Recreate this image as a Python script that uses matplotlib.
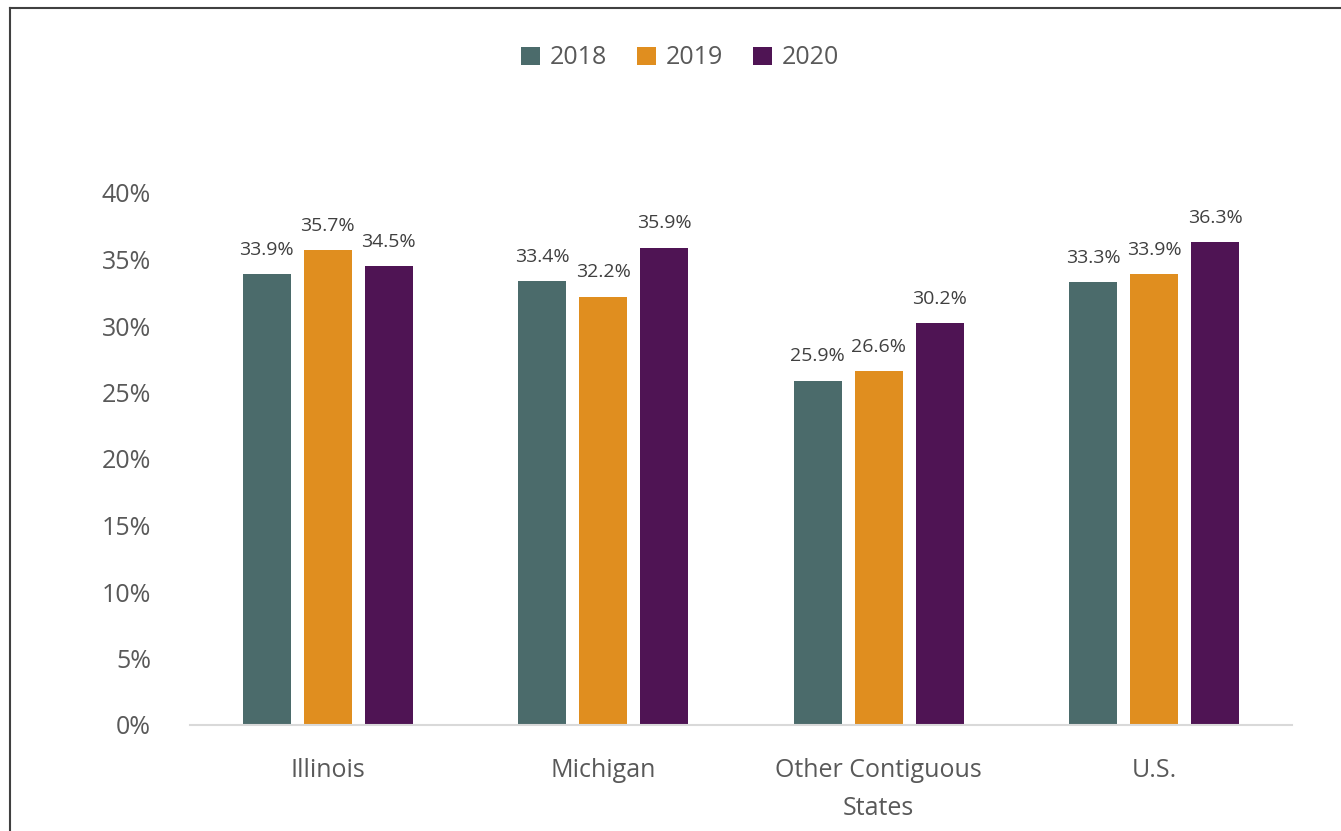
import matplotlib.pyplot as plt
import numpy as np
from matplotlib.lines import Line2D

plt.rcParams['font.family'] = ['Open Sans', 'DejaVu Sans']

categories = ['Illinois', 'Michigan', 'Other Contiguous\nStates', 'U.S.']
years = ['2018', '2019', '2020']
v2018 = [33.9, 33.4, 25.9, 33.3]
v2019 = [35.7, 32.2, 26.6, 33.9]
v2020 = [34.5, 35.9, 30.2, 36.3]
colors = ['#4B6B6B', '#E08E1F', '#4F1454']
yticks = [0, 5, 10, 15, 20, 25, 30, 35, 40]

W, H = 1341, 831
fig = plt.figure(figsize=(W / 100, H / 100), dpi=100)
ax = fig.add_axes([190 / W, (H - 725) / H, 1102 / W, 532 / H])

x = np.arange(len(categories))
bw = 0.174
step = 0.221
txt = '#595959'
for i, (vals, c, yr) in enumerate(zip([v2018, v2019, v2020], colors, years)):
    bars = ax.bar(x + (i - 1) * step, vals, width=bw, color=c, label=yr)
    for b, v in zip(bars, vals):
        ax.annotate(f'{v:.1f}%', (b.get_x() + b.get_width() / 2, v),
                    xytext=(0, 11), textcoords='offset points',
                    ha='center', va='bottom', fontsize=14, color='#404040')

ax.set_xlim(-0.5, 3.5)
ax.set_ylim(0, 40)
ax.set_yticks(yticks)
ax.set_yticklabels([f'{t}%' for t in yticks], fontsize=18, color=txt)
ax.set_xticks(x)
ax.set_xticklabels(categories, fontsize=18, color=txt, linespacing=1.65)
ax.tick_params(length=0)
ax.tick_params(axis='y', pad=28)
ax.tick_params(axis='x', pad=24)
for s in ['top', 'right', 'left']:
    ax.spines[s].set_visible(False)
ax.spines['bottom'].set_color('#D9D9D9')
ax.spines['bottom'].set_linewidth(1.5)

fig.legend(loc='center', bbox_to_anchor=(680 / W, 1 - 58 / H), ncol=3,
           frameon=False, fontsize=18, handlelength=0.75, handleheight=0.75,
           handletextpad=0.4, columnspacing=1.2, labelcolor=txt)

# outer frame (left and top edges visible)
fig.add_artist(Line2D([9.5 / W, 9.5 / W], [0, 1 - 8 / H], transform=fig.transFigure,
                      color='#404040', lw=1.5))
fig.add_artist(Line2D([9.5 / W, 1], [1 - 8 / H, 1 - 8 / H], transform=fig.transFigure,
                      color='#404040', lw=1.5))

fig.savefig('out.png', dpi=100)
